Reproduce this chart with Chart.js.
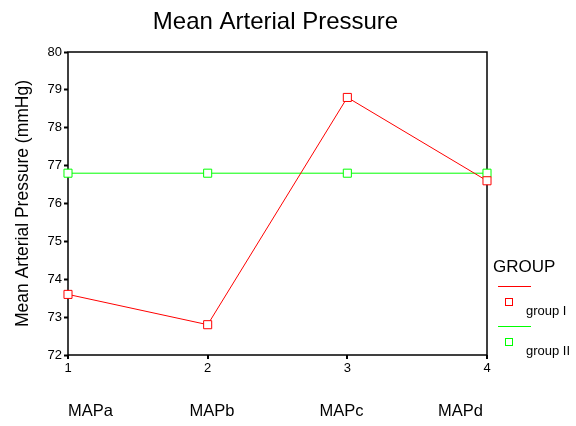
<!DOCTYPE html>
<html><head><meta charset="utf-8">
<script src="https://cdn.jsdelivr.net/npm/chart.js@4/dist/chart.umd.min.js"></script>
<style>html,body{margin:0;padding:0;background:#fff}#wrap{width:576px;height:426px}</style>
</head><body><div id="wrap"><canvas id="c"></canvas></div>
<script>
const xValues = [1, 2, 3, 4];
const measureLabels = ["MAPa", "MAPb", "MAPc", "MAPd"];
const groupI = [73.6, 72.8, 78.8, 76.6];
const groupII = [76.8, 76.8, 76.8, 76.8];
const seriesNames = ["group I", "group II"];
const seriesColors = ["#ff0000", "#00ff00"];
const yTicks = [72, 73, 74, 75, 76, 77, 78, 79, 80];

const FONT = "'Liberation Sans', Arial, sans-serif";

const extras = {
  id: 'extras',
  beforeDatasetsDraw(chart) {
    const ctx = chart.ctx, a = chart.chartArea;
    ctx.save();
    ctx.strokeStyle = '#000'; ctx.lineWidth = 1.5;
    ctx.strokeRect(a.left, a.top, a.right - a.left, a.bottom - a.top);
    ctx.restore();
  },
  afterDraw(chart) {
    const ctx = chart.ctx, a = chart.chartArea;
    ctx.save();
    ctx.fillStyle = '#000';
    ctx.font = '24px ' + FONT;
    ctx.textAlign = 'center'; ctx.textBaseline = 'middle';
    ctx.fillText('Mean Arterial Pressure', (a.left + a.right) / 2 - 2, 22);
    ctx.font = '16.5px ' + FONT;
    ctx.textAlign = 'left'; ctx.textBaseline = 'middle';
    const xs = chart.scales.x;
    const offsets = [0, 0.87, 1.8, 2.65];
    measureLabels.forEach((t, i) => {
      ctx.fillText(t, xs.getPixelForValue(1 + offsets[i]), 411);
    });
    ctx.font = '17px ' + FONT;
    ctx.fillText('GROUP', 493, 267);
    ctx.font = '13px ' + FONT;
    const rows = [286, 326];
    seriesNames.forEach((n, i) => {
      const y = rows[i];
      ctx.strokeStyle = seriesColors[i]; ctx.lineWidth = 1;
      ctx.beginPath(); ctx.moveTo(498, y + 0.5); ctx.lineTo(531, y + 0.5); ctx.stroke();
      ctx.strokeRect(505.5, y + 12.5, 7, 7);
      ctx.fillStyle = '#000';
      ctx.fillText(n, 526, y + 25);
    });
    ctx.restore();
  }
};

const ds = (i, vals) => ({
  label: seriesNames[i], data: xValues.map((x, k) => ({x, y: vals[k]})),
  borderColor: seriesColors[i], backgroundColor: '#fff', borderWidth: 1,
  pointStyle: 'rect', pointRadius: 5.7, pointBorderWidth: 1, pointHoverRadius: 5.7,
  clip: false
});

new Chart(document.getElementById('c'), {
  type: 'line',
  data: { datasets: [ds(0, groupI), ds(1, groupII)] },
  options: {
    responsive: true, maintainAspectRatio: false, animation: false,
    layout: { padding: { top: 52, right: 89, left: 13, bottom: 0 } },
    plugins: { legend: { display: false }, tooltip: { enabled: false } },
    scales: {
      x: {
        type: 'linear', min: 1, max: 4,
        afterBuildTicks(s) { s.ticks = xValues.map(v => ({value: v})); },
        afterFit(s) { s.height = 71; },
        grid: { drawOnChartArea: false, color: '#000', tickLength: 4, tickWidth: 2, lineWidth: 0 },
        border: { display: false },
        ticks: { color: '#000', font: { family: FONT, size: 13 }, padding: 2, maxRotation: 0 }
      },
      y: {
        min: 72, max: 80,
        afterBuildTicks(s) { s.ticks = yTicks.map(v => ({value: v})); },
        afterFit(s) { s.width = 55; },
        grid: { drawOnChartArea: false, color: '#000', tickLength: 4, tickWidth: 2 },
        border: { display: false },
        title: { display: true, text: 'Mean Arterial Pressure (mmHg)', color: '#000',
                 font: { family: FONT, size: 17.5 }, padding: { top: 0, bottom: 6 } },
        ticks: { color: '#000', font: { family: FONT, size: 13 }, padding: 2 }
      }
    }
  },
  plugins: [extras]
});
</script></body></html>
